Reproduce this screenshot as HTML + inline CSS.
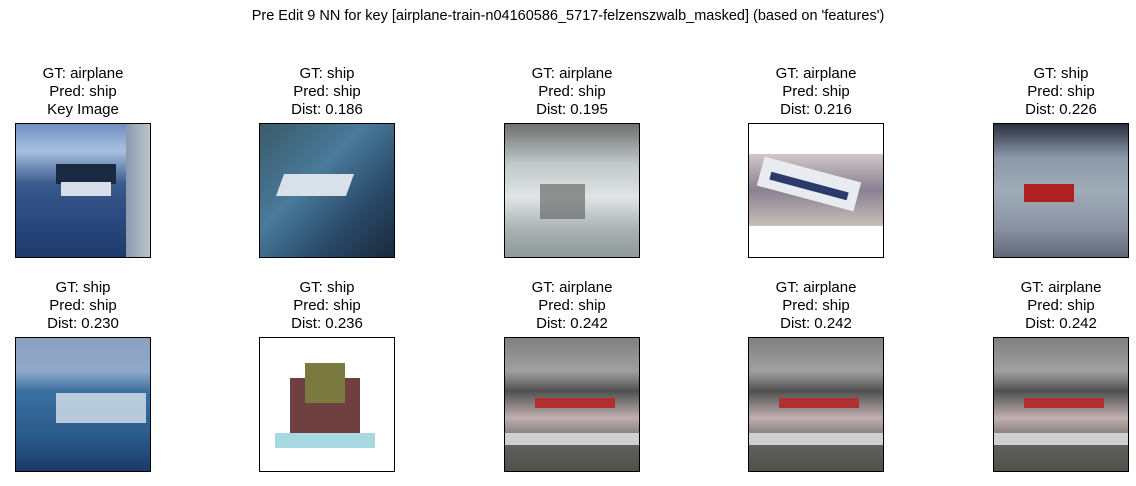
<!DOCTYPE html>
<html><head><meta charset="utf-8"><style>
body{margin:0;width:1136px;height:486px;background:#fff;position:relative;font-family:"Liberation Sans","DejaVu Sans",sans-serif;overflow:hidden}
.t{position:absolute;text-align:center;font-size:15px;line-height:18px;color:#000;width:240px}
.im{position:absolute;width:136px;height:135px;border:1px solid #000;box-sizing:border-box;overflow:hidden}
.im div{position:absolute}
</style></head><body>
<div style="position:absolute;left:0;width:1136px;top:8px;text-align:center;font-size:14.5px">Pre Edit 9 NN for key [airplane-train-n04160586_5717-felzenszwalb_masked] (based on 'features')</div>

<div class="t" style="left:-37px;top:65px">GT: airplane<br>Pred: ship<br>Key Image</div>
<div class="t" style="left:207px;top:65px">GT: ship<br>Pred: ship<br>Dist: 0.186</div>
<div class="t" style="left:452px;top:65px">GT: airplane<br>Pred: ship<br>Dist: 0.195</div>
<div class="t" style="left:696px;top:65px">GT: airplane<br>Pred: ship<br>Dist: 0.216</div>
<div class="t" style="left:941px;top:65px">GT: ship<br>Pred: ship<br>Dist: 0.226</div>

<div class="t" style="left:-37px;top:279px">GT: ship<br>Pred: ship<br>Dist: 0.230</div>
<div class="t" style="left:207px;top:279px">GT: ship<br>Pred: ship<br>Dist: 0.236</div>
<div class="t" style="left:452px;top:279px">GT: airplane<br>Pred: ship<br>Dist: 0.242</div>
<div class="t" style="left:696px;top:279px">GT: airplane<br>Pred: ship<br>Dist: 0.242</div>
<div class="t" style="left:941px;top:279px">GT: airplane<br>Pred: ship<br>Dist: 0.242</div>

<div class="im" style="left:15px;top:123px;background:linear-gradient(#6f8fc0 0%,#a9c0e0 20%,#3a5a8c 45%,#2a4a80 70%,#1e3a6a 100%)">
 <div style="left:40px;top:40px;width:60px;height:20px;background:#1a2a40"></div>
 <div style="left:45px;top:58px;width:50px;height:14px;background:#d8dde8"></div>
 <div style="left:110px;top:0;width:26px;height:135px;background:linear-gradient(90deg,#8a9aaa,#c0c8d0)"></div>
</div>
<div class="im" style="left:259px;top:123px;background:linear-gradient(135deg,#3a5a6a,#4a7a9a 40%,#2a4a6a 70%,#1a2a3a)">
 <div style="left:20px;top:50px;width:70px;height:22px;background:#d8e0e8;transform:skewX(-20deg)"></div>
</div>
<div class="im" style="left:504px;top:123px;background:linear-gradient(#707070,#c0c8c8 30%,#e0e4e4 55%,#a8b0b0 80%,#909a9a)">
 <div style="left:35px;top:60px;width:45px;height:35px;background:#5a5a5a;opacity:.6"></div>
</div>
<div class="im" style="left:748px;top:123px;background:#fff">
 <div style="left:0;top:30px;width:136px;height:72px;background:linear-gradient(#d0c8c8,#8a8090 50%,#c8c0b8)"></div>
 <div style="left:10px;top:45px;width:100px;height:30px;background:#e8ecf0;transform:rotate(15deg)"></div>
 <div style="left:20px;top:58px;width:80px;height:8px;background:#2a3a6a;transform:rotate(15deg)"></div>
</div>
<div class="im" style="left:993px;top:123px;background:linear-gradient(#2a3040,#8a98a8 25%,#a0acb8 50%,#8890a0 80%,#606878)">
 <div style="left:30px;top:60px;width:50px;height:18px;background:#b02020"></div>
</div>

<div class="im" style="left:15px;top:337px;background:linear-gradient(#8aa0c0,#90a8c8 25%,#3a70a0 40%,#2a5a8a 75%,#1a3a6a)">
 <div style="left:40px;top:55px;width:90px;height:30px;background:#d8e4ee;opacity:.8"></div>
</div>
<div class="im" style="left:259px;top:337px;background:#fff">
 <div style="left:30px;top:40px;width:70px;height:60px;background:#704040"></div>
 <div style="left:45px;top:25px;width:40px;height:40px;background:#7a7a40"></div>
 <div style="left:15px;top:95px;width:100px;height:15px;background:#a8d8e0"></div>
</div>
<div class="im" style="left:504px;top:337px;background:linear-gradient(#808080,#a0a0a0 25%,#505050 40%,#c0b0b0 60%,#606060 80%,#505048)">
 <div style="left:0;top:95px;width:136px;height:12px;background:#d0d0d0"></div>
 <div style="left:30px;top:60px;width:80px;height:10px;background:#b03030"></div>
</div>
<div class="im" style="left:748px;top:337px;background:linear-gradient(#808080,#a0a0a0 25%,#505050 40%,#c0b0b0 60%,#606060 80%,#505048)">
 <div style="left:0;top:95px;width:136px;height:12px;background:#d0d0d0"></div>
 <div style="left:30px;top:60px;width:80px;height:10px;background:#b03030"></div>
</div>
<div class="im" style="left:993px;top:337px;background:linear-gradient(#808080,#a0a0a0 25%,#505050 40%,#c0b0b0 60%,#606060 80%,#505048)">
 <div style="left:0;top:95px;width:136px;height:12px;background:#d0d0d0"></div>
 <div style="left:30px;top:60px;width:80px;height:10px;background:#b03030"></div>
</div>
</body></html>
